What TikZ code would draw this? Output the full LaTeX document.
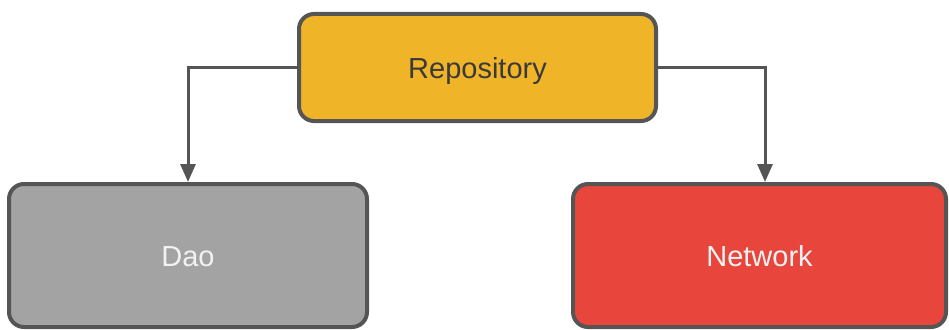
\documentclass[tikz,border=0pt]{standalone}
\usepackage{fontspec}
\setmainfont{Liberation Sans}
\usetikzlibrary{arrows.meta}
\definecolor{edgegray}{HTML}{555555}
\definecolor{repofill}{HTML}{F0B429}
\definecolor{daofill}{HTML}{A3A3A3}
\definecolor{netfill}{HTML}{E8453C}
\definecolor{darktext}{HTML}{3A3A3A}
\definecolor{lighttext}{HTML}{F2F2F2}
\tikzset{
  box/.style={draw=edgegray, line width=4pt, rounded corners=15pt, inner sep=0pt,
    font=\fontsize{29}{34}\selectfont, text height=21pt, text depth=0pt},
  conn/.style={draw=edgegray, line width=3pt, -{Triangle[length=18pt,width=15pt]}}
}
\begin{document}
\begin{tikzpicture}[x=1pt,y=-1pt]
\useasboundingbox (0,0) rectangle (949,329);
\node[box, fill=repofill, text=darktext, minimum width=357pt, minimum height=107pt] (repo) at (477.5,67.5) {Repository};
\node[box, fill=daofill, text=lighttext, minimum width=358pt, minimum height=143pt] (dao) at (188,255.5) {Dao};
\node[box, fill=netfill, text=lighttext, minimum width=373pt, minimum height=143pt] (net) at (759.5,255.5) {Network};
\coordinate (nettop) at ([xshift=5.5pt]net.north);
\draw[conn] (repo.west) -| (dao.north);
\draw[conn] (repo.east) -| (nettop);
\end{tikzpicture}
\end{document}
